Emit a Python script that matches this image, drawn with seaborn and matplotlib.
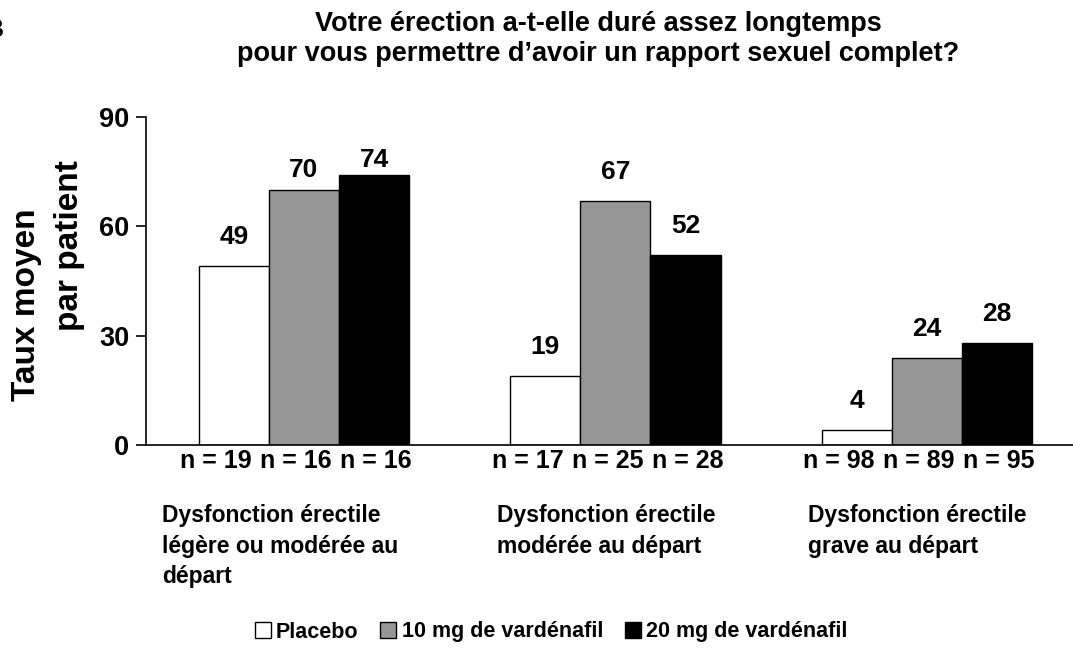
import pandas as pd
import seaborn as sns
from matplotlib import pyplot as plt
from matplotlib.patches import Patch

groups = ['Légère ou modérée', 'Modérée', 'Grave']
group_labels = ['Dysfonction érectile\nlégère ou modérée au\ndépart',
                'Dysfonction érectile\nmodérée au départ',
                'Dysfonction érectile\ngrave au départ']
treatments = ['Placebo', '10 mg de vardénafil', '20 mg de vardénafil']
placebo = [49, 19, 4]
vard10 = [70, 67, 24]
vard20 = [74, 52, 28]
n_placebo = [19, 17, 98]
n_vard10 = [16, 25, 89]
n_vard20 = [16, 28, 95]
yticks = [0, 30, 60, 90]

colors = ['#ffffff', '#969696', '#000000']

rows = []
for t, vals, ns in zip(treatments, [placebo, vard10, vard20], [n_placebo, n_vard10, n_vard20]):
    for g, v, n in zip(groups, vals, ns):
        rows.append({'groupe': g, 'traitement': t, 'taux': v, 'n': n})
df = pd.DataFrame(rows)

sns.set_style('white')
plt.rcParams['font.family'] = ['Liberation Sans', 'DejaVu Sans']
plt.rcParams['font.weight'] = 'bold'
plt.rcParams['text.color'] = 'black'
plt.rcParams['ytick.color'] = 'black'
plt.rcParams['ytick.labelcolor'] = 'black'

fig = plt.figure(figsize=(10.73, 6.54), dpi=100)
ax = fig.add_axes([146 / 1073, 1 - 445 / 654, 1 - 146 / 1073, (445 - 117) / 654])

sns.barplot(data=df, x='groupe', y='taux', hue='traitement', order=groups,
            hue_order=treatments, palette=colors, width=0.675,
            edgecolor='black', linewidth=1, legend=False, ax=ax)

ax.set_xlim(-0.507, 2.469)
ax.set_ylim(0, 90)
ax.set_yticks(yticks)
ax.set_yticklabels([str(v) for v in yticks], fontsize=19.5, fontweight='bold', color='black')
ax.tick_params(axis='y', direction='out', length=7, width=1.2, color='black', pad=5, left=True)
ax.tick_params(axis='x', bottom=False, labelbottom=False)
ax.set_xlabel('')
ax.set_ylabel('')
for s in ['top', 'right']:
    ax.spines[s].set_visible(False)
for s in ['left', 'bottom']:
    ax.spines[s].set_color('black')
    ax.spines[s].set_linewidth(1.2)

# value labels above bars, n labels below (n labels spread a bit wider than bars)
ns_all = [n_placebo, n_vard10, n_vard20]
for i, cont in enumerate(ax.containers):
    for j, bar in enumerate(cont):
        xc = bar.get_x() + bar.get_width() / 2
        h = bar.get_height()
        lift = 29
        if i == 1 and j == 0:
            lift = 20
        if i == 2 and j == 0:
            lift = 15
        ax.annotate(f'{h:.0f}', (xc, h), xytext=(0, lift), textcoords='offset pixels',
                    ha='center', va='center', fontsize=19, fontweight='bold')
        ax.annotate(f'n = {ns_all[i][j]}', (j, 0), xytext=((i - 1) * 80 - 8, -16),
                    textcoords='offset pixels', ha='center', va='center',
                    fontsize=18, fontweight='bold', annotation_clip=False)

# group labels
label_x = [162, 497, 808]
for lx, txt in zip(label_x, group_labels):
    fig.text(lx / 1073, 1 - 504 / 654, txt, ha='left', va='top', fontsize=16.5,
             fontweight='bold', linespacing=1.42)

# y label (two lines, offset as in the original)
fig.text(27 / 1073, 1 - 305 / 654, 'Taux moyen', rotation=90, ha='center', va='center',
         fontsize=24, fontweight='bold')
fig.text(70 / 1073, 1 - 246 / 654, 'par patient', rotation=90, ha='center', va='center',
         fontsize=24, fontweight='bold')

# title
fig.text(598 / 1073, 1 - 39 / 654,
         'Votre érection a-t-elle duré assez longtemps\npour vous permettre d’avoir un rapport sexuel complet?',
         ha='center', va='center', fontsize=19.5, fontweight='bold', linespacing=1.2)

# panel letter cut at the edge
fig.text(3 / 1073, 1 - 30 / 654, 'B', ha='right', va='center', fontsize=18, fontweight='bold')

handles = [Patch(facecolor=c, edgecolor='black', linewidth=1) for c in colors]
fig.legend(handles, treatments, loc='center', bbox_to_anchor=(551 / 1073, 1 - 632 / 654),
           ncol=3, frameon=False, handlelength=0.75, handleheight=0.75, handletextpad=0.25,
           columnspacing=1.0, prop={'size': 15.5, 'weight': 'bold'})

fig.savefig('out.png', dpi=100)
